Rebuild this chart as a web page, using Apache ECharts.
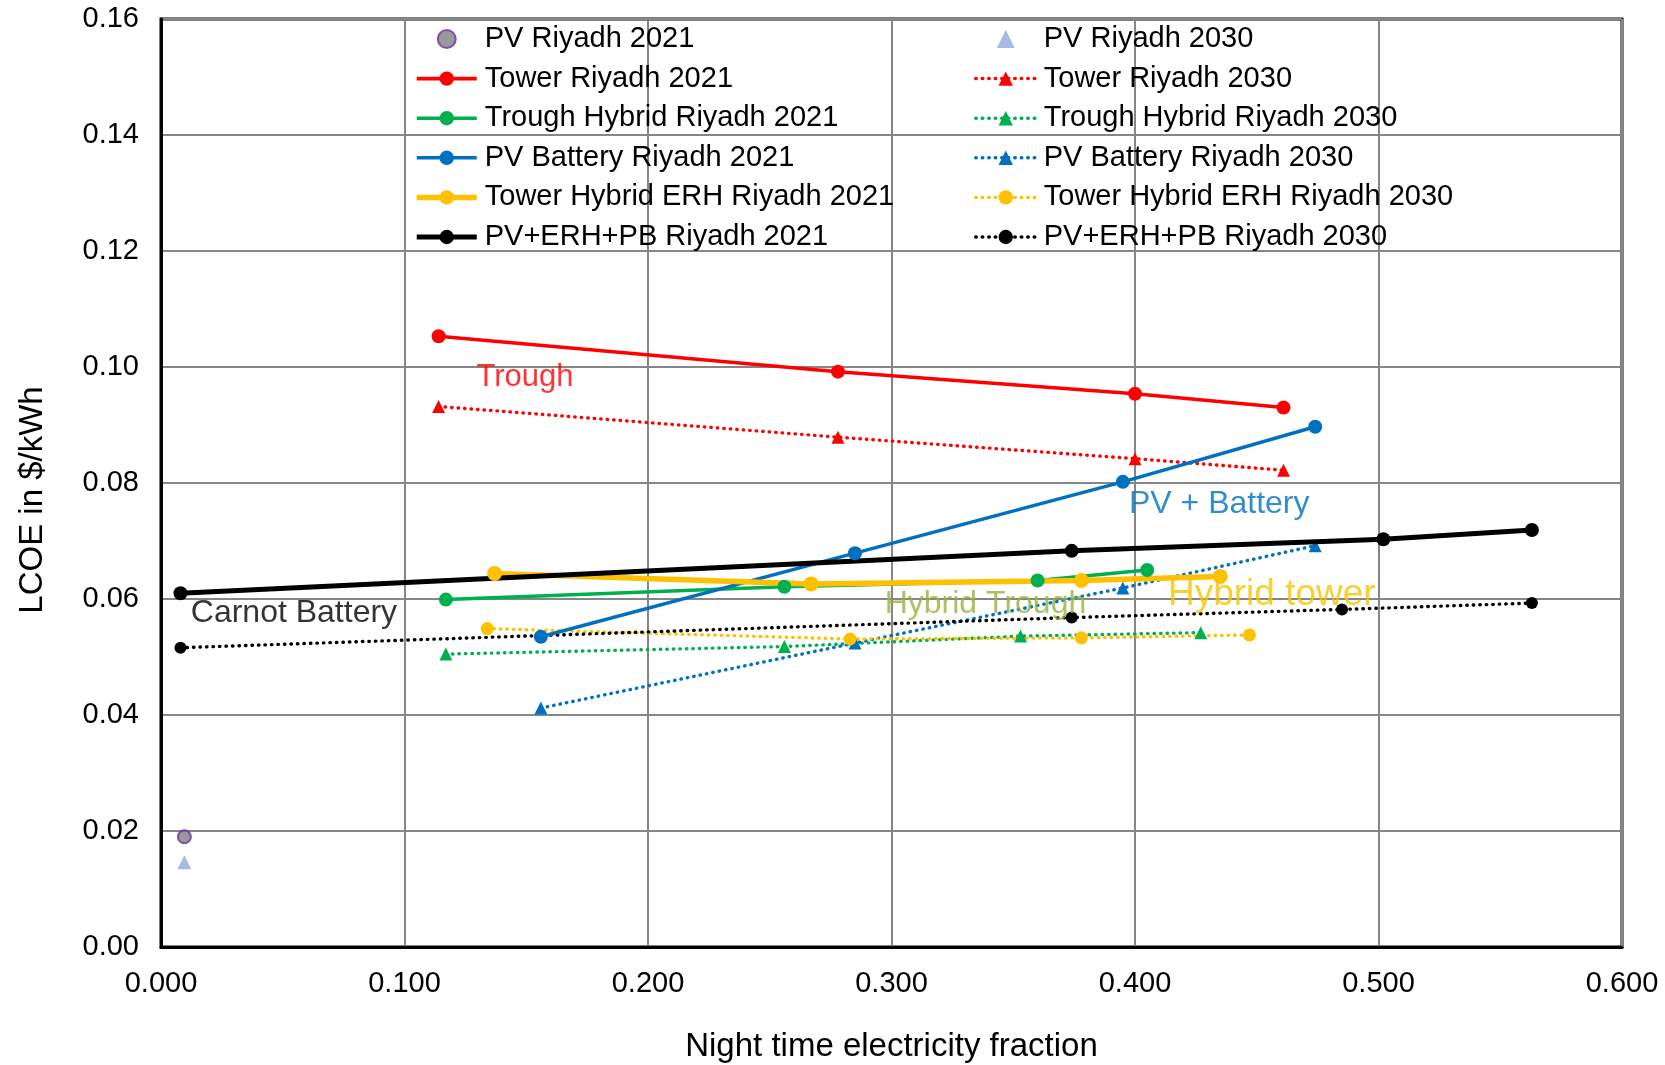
<!DOCTYPE html>
<html>
<head>
<meta charset="utf-8">
<script src="https://cdn.jsdelivr.net/npm/echarts@6/dist/echarts.min.js"></script>
<style>
html,body{margin:0;padding:0;background:#fff;}
#chart{width:1665px;height:1065px;}
</style>
</head>
<body>
<div id="chart"></div>
<script>
// ---- data ----
const xTicks = [0, 0.1, 0.2, 0.3, 0.4, 0.5, 0.6];
const yTicks = [0, 0.02, 0.04, 0.06, 0.08, 0.10, 0.12, 0.14, 0.16];

const pvX = [0.0096];
const pv2021 = [0.0190];
const pv2030 = [0.0146];

const towerX = [0.114, 0.278, 0.400, 0.461];
const tower2021 = [0.1053, 0.0992, 0.0954, 0.0930];
const tower2030 = [0.0932, 0.0879, 0.0842, 0.0822];

const troughX2021 = [0.117, 0.256, 0.360, 0.405];
const trough2021 = [0.0599, 0.0621, 0.0632, 0.0650];
const troughX2030 = [0.117, 0.256, 0.353, 0.427];
const trough2030 = [0.0505, 0.0518, 0.0536, 0.0542];

const pvbX = [0.156, 0.285, 0.395, 0.474];
const pvb2021 = [0.0535, 0.0679, 0.0802, 0.0897];
const pvb2030 = [0.0412, 0.0524, 0.0619, 0.0692];

const erhX2021 = [0.137, 0.267, 0.378, 0.435];
const erh2021 = [0.0644, 0.0626, 0.0632, 0.0639];
const erhX2030 = [0.134, 0.283, 0.378, 0.447];
const erh2030 = [0.0549, 0.0531, 0.0533, 0.0538];

const pbX2021 = [0.008, 0.374, 0.502, 0.563];
const pb2021 = [0.0610, 0.0683, 0.0703, 0.0719];
const pbX2030 = [0.008, 0.374, 0.485, 0.563];
const pb2030 = [0.0516, 0.0568, 0.0582, 0.0593];

const annotX = [0.1497, 0.4348, 0.0548, 0.3388, 0.4564];
const annotY = [0.0981, 0.0762, 0.0575, 0.0590, 0.0606];
const annotText = ['Trough', 'PV + Battery', 'Carnot Battery', 'Hybrid Trough', 'Hybrid tower'];
const annotColor = ['#FF0000', '#0070C0', '#000000', '#92B43C', '#F5C400'];
const annotSize = [31, 32, 32, 32, 37];

const namesLeft = ['PV Riyadh 2021', 'Tower Riyadh 2021', 'Trough Hybrid Riyadh 2021', 'PV Battery Riyadh 2021', 'Tower Hybrid ERH Riyadh 2021', 'PV+ERH+PB Riyadh 2021'];
const namesRight = ['PV Riyadh 2030', 'Tower Riyadh 2030', 'Trough Hybrid Riyadh 2030', 'PV Battery Riyadh 2030', 'Tower Hybrid ERH Riyadh 2030', 'PV+ERH+PB Riyadh 2030'];

// ---- build ----
const FONT = '"Liberation Sans", Arial, sans-serif';
const TRI = 'path://M0,-10L10,10L-10,10Z';
const DOT = [0.5, 6];
function pairs(xs, ys) { return xs.map((x, i) => [x, ys[i]]); }

function solid(name, xs, ys, color, width, size) {
  return {
    name, type: 'line', data: pairs(xs, ys),
    symbol: 'circle', symbolSize: size || 14,
    lineStyle: { color, width, type: 'solid' },
    itemStyle: { color },
    z: 3, animation: false
  };
}
function dotted(name, xs, ys, color, symbol, size) {
  return {
    name, type: 'line', data: pairs(xs, ys),
    symbol, symbolSize: size,
    lineStyle: { color, width: 3.4, type: DOT, cap: 'round' },
    itemStyle: { color },
    z: 2, animation: false
  };
}

const series = [
  { name: 'PV Riyadh 2021', type: 'scatter', data: pairs(pvX, pv2021), symbol: 'circle', symbolSize: 13,
    itemStyle: { color: '#7F7F7F', borderColor: '#7030A0', borderWidth: 2 }, animation: false },
  { name: 'PV Riyadh 2030', type: 'scatter', data: pairs(pvX, pv2030), symbol: TRI, symbolSize: 14,
    itemStyle: { color: '#8FAADC' }, animation: false },
  solid('Tower Riyadh 2021', towerX, tower2021, '#FF0000', 3.5),
  dotted('Tower Riyadh 2030', towerX, tower2030, '#FF0000', 'triangle', 13),
  solid('Trough Hybrid Riyadh 2021', troughX2021, trough2021, '#00B050', 3.5),
  dotted('Trough Hybrid Riyadh 2030', troughX2030, trough2030, '#00B050', 'triangle', 13),
  solid('PV Battery Riyadh 2021', pvbX, pvb2021, '#0070C0', 3.5),
  dotted('PV Battery Riyadh 2030', pvbX, pvb2030, '#0070C0', 'triangle', 13),
  solid('Tower Hybrid ERH Riyadh 2021', erhX2021, erh2021, '#FFC000', 5.5, 15),
  dotted('Tower Hybrid ERH Riyadh 2030', erhX2030, erh2030, '#FFC000', 'circle', 13),
  solid('PV+ERH+PB Riyadh 2021', pbX2021, pb2021, '#000000', 5, 14),
  dotted('PV+ERH+PB Riyadh 2030', pbX2030, pb2030, '#000000', 'circle', 12),
  {
    name: 'annotations', type: 'scatter', symbolSize: 1, silent: true, z: 5, animation: false,
    itemStyle: { color: 'rgba(0,0,0,0)' },
    data: annotX.map((x, i) => ({
      value: [x, annotY[i]],
      label: { show: true, position: [0, 0], align: 'center', verticalAlign: 'middle',
               formatter: annotText[i], color: annotColor[i], textBorderWidth: 0,
               fontSize: annotSize[i], fontFamily: FONT }
    }))
  }
];

const legendCommon = {
  orient: 'vertical', top: 19, itemWidth: 60, itemHeight: 18, itemGap: 9.6,
  selectedMode: false,
  textStyle: { fontSize: 29, lineHeight: 30, fontFamily: FONT, color: '#000', padding: [0, 0, 0, 3] }
};
const leftWidths = [0, 3.6, 3.6, 3.6, 5.5, 5];
const leftData = namesLeft.map((n, i) => i === 0 ? { name: n } : { name: n, lineStyle: { width: leftWidths[i] } });
const rightData = namesRight.map((n, i) => i === 0 ? { name: n, icon: TRI }
  : { name: n, lineStyle: { width: 3.5, type: DOT, cap: 'round' } });

const option = {
  backgroundColor: '#ffffff',
  animation: false,
  grid: { left: 161, right: 43, top: 19, bottom: 118, outerBoundsMode: 'none', containLabel: false,
          show: true, borderColor: '#000', borderWidth: 3, backgroundColor: 'transparent' },
  legend: [
    Object.assign({}, legendCommon, { left: 409, data: leftData }),
    Object.assign({}, legendCommon, { left: 969, data: rightData })
  ],
  graphic: [{
    type: 'text', x: 33, y: 500, rotation: Math.PI / 2, silent: true,
    style: { text: 'LCOE in $/kWh', fontSize: 33, fontFamily: FONT, fill: '#000',
             align: 'center', verticalAlign: 'middle' }
  }],
  xAxis: {
    type: 'value', min: xTicks[0], max: xTicks[xTicks.length - 1], interval: xTicks[1] - xTicks[0],
    name: 'Night time electricity fraction', nameLocation: 'middle', nameGap: 83,
    nameTextStyle: { fontSize: 33, fontFamily: FONT, color: '#000' },
    axisLine: { show: true, lineStyle: { color: '#000', width: 3 } },
    axisTick: { show: false },
    axisLabel: { fontSize: 29, fontFamily: FONT, color: '#000', margin: 22, formatter: v => v.toFixed(3) },
    splitLine: { show: true, lineStyle: { color: '#868686', width: 2 } }
  },
  yAxis: {
    type: 'value', min: yTicks[0], max: yTicks[yTicks.length - 1], interval: yTicks[1] - yTicks[0],
    axisLine: { show: true, lineStyle: { color: '#000', width: 3 } },
    axisTick: { show: false },
    axisLabel: { fontSize: 29, fontFamily: FONT, color: '#000', margin: 22, formatter: v => v.toFixed(2) },
    splitLine: { show: true, lineStyle: { color: '#868686', width: 2 } }
  },
  series
};

const chart = echarts.init(document.getElementById('chart'), null, { renderer: 'canvas' });
chart.setOption(option);
</script>
</body>
</html>
